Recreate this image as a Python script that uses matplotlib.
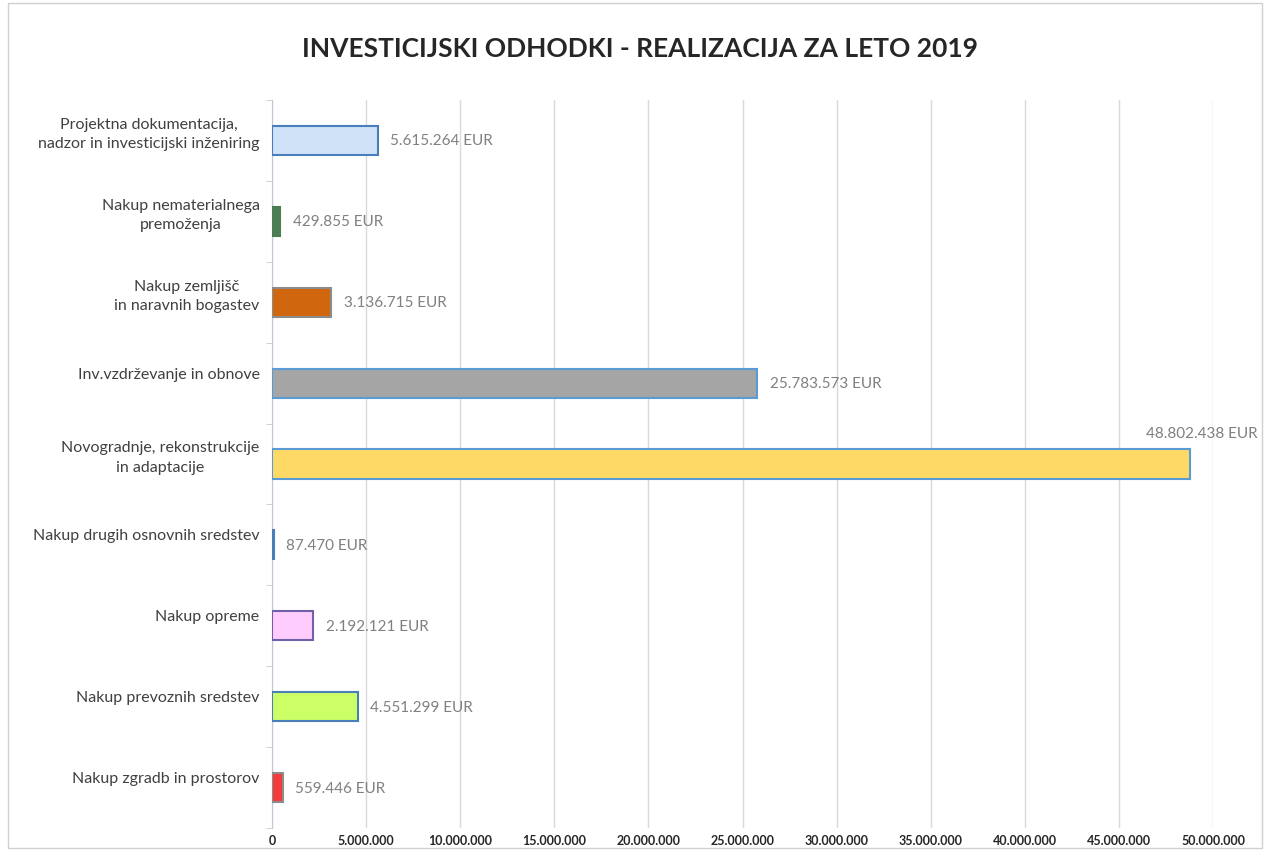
import matplotlib.pyplot as plt
import matplotlib.transforms as mtransforms
from matplotlib.patches import Rectangle
from matplotlib.ticker import FuncFormatter, MultipleLocator

plt.rcParams['font.family'] = ['Lato', 'DejaVu Sans']

# data, top to bottom as in the chart
categories = [
    "Projektna dokumentacija,\nnadzor in investicijski inženiring",
    "Nakup nematerialnega\npremoženja",
    "Nakup zemljišč\nin naravnih bogastev",
    "Inv.vzdrževanje in obnove",
    "Novogradnje, rekonstrukcije\nin adaptacije",
    "Nakup drugih osnovnih sredstev",
    "Nakup opreme",
    "Nakup prevoznih sredstev",
    "Nakup zgradb in prostorov",
]
values = [5615264, 429855, 3136715, 25783573, 48802438, 87470, 2192121, 4551299, 559446]
fills = ['#cfe2f8', '#4b7d55', '#d0670f', '#a5a5a5', '#ffd966',
         '#5b9bd5', '#ffccff', '#ccff66', '#f23c3c']
edges = ['#4a7ebb', '#4b7d55', '#8c8c8c', '#5b9bd5', '#5b9bd5',
         '#4a7ebb', '#7060a8', '#4a7ebb', '#8c8c8c']

def dots(v, pos=None):
    return f"{int(v):,}".replace(",", ".")

fig = plt.figure(figsize=(12.7, 8.53), dpi=100)
ax = fig.add_axes([0.2142, 0.0281, 0.7409, 0.8535])

y = list(range(len(categories)))
ax.barh(y, values, height=0.36, color=fills, edgecolor=edges, linewidth=1.5, zorder=3)

for i, v in enumerate(values):
    txt = dots(v) + " EUR"
    if v > 45000000:
        ax.annotate(txt, (v, i), xytext=(8, 22), textcoords='offset points',
                    ha='center', va='center', fontsize=11, color='#808080')
    else:
        ax.annotate(txt, (v, i), xytext=(9, 0), textcoords='offset points',
                    ha='left', va='center', fontsize=11, color='#808080')

ax.set_xlim(0, 50000000)
ax.set_ylim(len(categories) - 0.5, -0.5)
ax.xaxis.set_major_locator(MultipleLocator(5000000))
ax.xaxis.set_major_formatter(FuncFormatter(dots))
ax.grid(axis='x', color='#d9d9d9', linewidth=1, zorder=0)

ax.set_yticks(y)
ax.set_yticklabels(categories, fontsize=11.5, color='#404040',
                   multialignment='center', linespacing=1.5)
ax.set_yticks([i + 0.5 for i in range(-1, len(categories))], minor=True)
ax.tick_params(axis='y', which='major', length=0, pad=9)
ax.tick_params(axis='y', which='minor', length=4, color='#c0c8d8')
ax.tick_params(axis='x', length=0, pad=4, labelsize=9)
for lab in ax.get_xticklabels():
    lab.set_fontweight('bold')
    lab.set_color('#262626')

# shift category labels slightly upward, like the original
shift = mtransforms.ScaledTranslation(0, 8 / 72, fig.dpi_scale_trans)
for lab in ax.get_yticklabels():
    lab.set_transform(lab.get_transform() + shift)

for s in ['top', 'right', 'bottom']:
    ax.spines[s].set_visible(False)
ax.spines['left'].set_color('#c0c8d8')

fig.text(0.504, 0.943, "INVESTICIJSKI ODHODKI - REALIZACIJA ZA LETO 2019",
         ha='center', va='center', fontsize=19, fontweight='bold', color='#262626')

fig.patches.append(Rectangle((0.006, 0.005), 0.988, 0.99, transform=fig.transFigure,
                             fill=False, edgecolor='#d0d0d0', linewidth=1))

fig.savefig('out.png', dpi=100)
